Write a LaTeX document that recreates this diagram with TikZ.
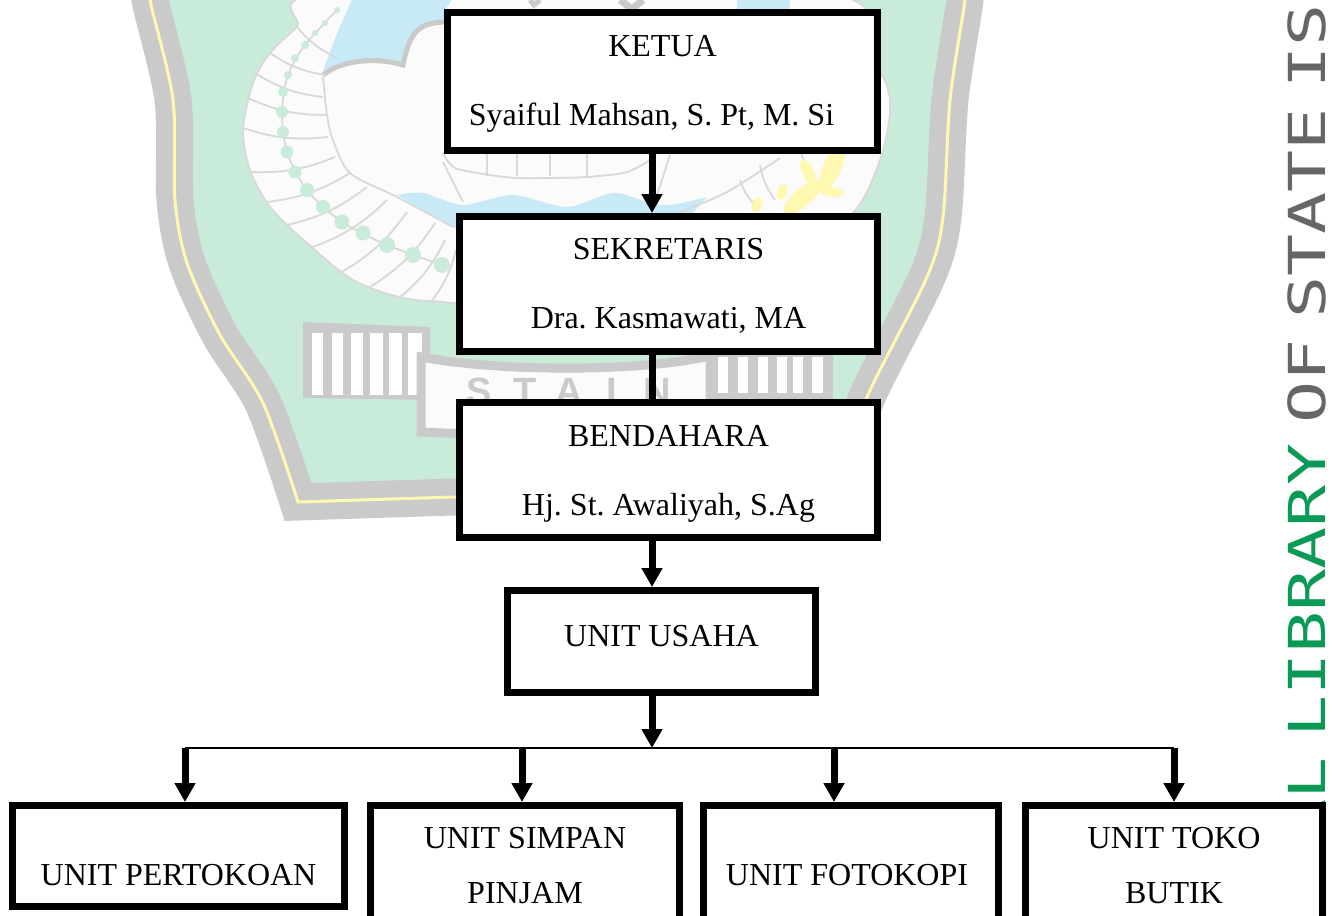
\documentclass[tikz,border=0pt]{standalone}
\usepackage{fontspec}
\setmainfont{Liberation Serif}
\newfontfamily\wmfont{DejaVu Sans Mono}
\newfontfamily\logofont{Liberation Sans}
\usetikzlibrary{arrows.meta}
\definecolor{shieldgreen}{HTML}{C9EBD9}
\definecolor{shieldyellow}{HTML}{FFF8B0}
\definecolor{logogray}{HTML}{CACACA}
\definecolor{logoline}{HTML}{D8D8D8}
\definecolor{logowhite}{HTML}{FBFBFB}
\definecolor{logoblue}{HTML}{C8EAF6}
\definecolor{wmgreen}{HTML}{0B9A55}
\definecolor{wmgray}{HTML}{666666}
\begin{document}
\begin{tikzpicture}[x=1pt,y=-1pt,
  boxnode/.style={draw,fill=white,line width=7pt,align=center,
    font=\fontsize{32}{69}\selectfont\frenchspacing,inner sep=0pt},
  link/.style={line width=7pt},
  arrowlink/.style={line width=7pt,-{Triangle[width=20pt,length=19pt]}},
  busline/.style={line width=2.5pt},
  ringline/.style={draw=logoline,line width=1.8pt}]
  \path[use as bounding box,clip] (0,0) rectangle (1332,915);
  \draw[fill=shieldgreen,draw=logogray,line width=37pt,miter limit=10,
    postaction={draw=shieldyellow,line width=3pt}]
    plot[smooth] coordinates {(145,-40) (150,0) (173,100) (175,200) (187,263) (220,335) (263,403) (298,502)}
    -- (453,497) -- (830,497)
    -- plot[smooth] coordinates {(830,497) (867,397) (927,277) (943,217) (950,100) (965,0) (968,-40)}
    -- cycle;
  \draw[fill=logowhite,ringline] plot[smooth cycle] coordinates {(333,-8) (297,27) (270,53) (253,83) (243,130)
    (250,170) (270,207) (307,243) (353,280) (403,298) (453,303) (600,320) (780,270) (853,213) (880,160)
    (890,110) (881,73) (825,-8)};
  \fill[logoblue] (353,-2) .. controls (340,25) and (330,50) .. (323,72) -- (323,77)
    .. controls (345,58) and (380,58) .. (403,65) .. controls (410,30) and (420,23) .. (445,22)
    -- (445,-2) -- cycle;
  \fill[logoblue] (737,-2) -- (790,-2) -- (790,9) -- (737,9) -- cycle;
  \fill[logoblue] (400,-2) -- (453,-2) -- (445,10) -- (400,10) -- cycle;
  \draw[logogray,line width=5pt] (323,75) .. controls (345,58) and (380,58) .. (403,65)
    .. controls (410,30) and (420,23) .. (445,22);
  \draw[logogray,line width=7pt] (620,0) -- (632,9) -- (643,0);
  \draw[logogray,line width=5pt] (530,0) -- (534,5) -- (540,0);
  \fill[logoblue] plot[smooth] coordinates {(397,195) (423,193) (463,205) (513,195) (567,207) (613,193)
    (647,202) (670,205) (707,197)} -- (690,216) -- (455,228) -- cycle;
  \draw[ringline] plot[smooth] coordinates {(323,77) (327,115) (333,140) (350,173) (397,197) (453,227)};
  \draw[ringline] plot[smooth] coordinates {(780,158) (727,192) (680,212)};
  \draw[ringline] plot[smooth] coordinates {(443,153) (455,168) (490,175) (517,178) (547,178) (587,177) (627,172) (653,158)};
  \draw[ringline] (443,162) -- (463,202);
  \draw[ringline] (670,155) -- (657,195);
  \foreach \xa in {487,517,550,587}
    \draw[ringline] (\xa,154) -- (\xa,176);
  \foreach \xa/\ya/\xb/\yb in {258/75/323/97,248/98/327/115,243/128/328/137,250/172/335/157,267/202/350/173,
    287/225/367/187,310/248/387/200,340/273/407/212,370/287/435/223,400/297/445/240,430/303/456/250,
    297/27/337/58,270/53/325/75,740/180/755/205,760/165/775/200,800/150/820/185}
    \draw[ringline] (\xa,\ya) to[bend right=12] (\xb,\yb);
  \draw[ringline] plot[smooth] coordinates {(337,10) (305,45) (288,75) (282,112) (287,152) (307,190) (342,222) (387,245) (442,265)};
  \foreach \xa/\ya/\r in {337/10/3,325/23/3,315/33/3,305/45/4,295/58/4,288/75/4,283/92/5,282/112/6,283/132/6,
    287/152/6.5,295/172/6.5,307/190/7,323/207/7,342/222/7.5,363/233/7.5,387/245/8,413/255/8,442/265/8}
    \fill[shieldgreen] (\xa,\ya) circle (\r);
  \foreach \xa/\ya/\r/\ra/\rb in {803/197/40/24/9,832/168/65/24/9,808/172/-65/13/6,832/192/-5/12/5,757/205/70/8/5,782/192/70/8/5}
    \fill[shieldyellow,rotate around={\r:(\xa,\ya)}] (\xa,\ya) ellipse (\ra pt and \rb pt);
  \fill[logogray] (303,322) -- (430,327) -- (430,400) -- (303,398) -- cycle;
  \foreach \xa/\xb in {312/323,332/343,351/363,370/383,389/402,408/422}
    \fill[white] (\xa,333) rectangle (\xb,395);
  \fill[logogray] (708,350) rectangle (833,399);
  \foreach \xa/\xb in {718/728,738/748,758/768,777/787,793/803,812/823}
    \fill[white] (\xa,357) rectangle (\xb,393);
  \draw[fill=logowhite,draw=logogray,line width=9pt] (421,357) .. controls (500,372) and (640,372) .. (710,356)
    -- (710,445) -- (421,432) -- cycle;
  \foreach \l/\xa in {S/479,T/525,A/569,I/612,N/657}
    \node[text=logogray,font=\logofont\bfseries\fontsize{38}{38}\selectfont,inner sep=0pt,anchor=base] (logo\l) at (\xa,404) {\l};
  \node[rotate=90,anchor=base east,inner sep=0pt,font=\wmfont\fontsize{51}{51}\selectfont] (wmark) at (1325,4)
    {\scalebox{1.37}[1]{\textcolor{wmgreen}{AL\hspace{-16pt} LIBRARY}\hspace{-16pt} \textcolor{wmgray}{OF\hspace{-16pt} STATE\hspace{-16pt} IS}}};
  \node[boxnode,minimum width=430pt,minimum height=138pt,text height=87pt,text depth=0pt] (ketua) at (662.5,81.5)
    {KETUA\\Syaiful Mahsan, S. Pt, M. Si\hspace*{22pt}};
  \node[boxnode,minimum width=418pt,minimum height=135pt,text height=88pt,text depth=0pt] (sekretaris) at (668.5,284)
    {SEKRETARIS\\Dra. Kasmawati, MA};
  \node[boxnode,minimum width=418pt,minimum height=135pt,text height=90pt,text depth=0pt] (bendahara) at (668.5,470)
    {BENDAHARA\\Hj. St. Awaliyah, S.Ag};
  \node[boxnode,minimum width=308pt,minimum height=102pt,text height=9pt,text depth=0pt] (usaha) at (661.5,641.5)
    {UNIT USAHA};
  \node[boxnode,minimum width=332pt,minimum height=101pt,text height=58pt,text depth=0pt] (pertokoan) at (178.5,856)
    {UNIT PERTOKOAN};
  \node[boxnode,minimum width=309pt,minimum height=121pt,text height=74pt,text depth=0pt] (simpan) at (525,866)
    {UNIT SIMPAN\\[-14pt]PINJAM};
  \node[boxnode,minimum width=295pt,minimum height=121pt,text height=38pt,text depth=0pt] (fotokopi) at (851,866)
    {UNIT FOTOKOPI\hspace*{8pt}};
  \node[boxnode,minimum width=297pt,minimum height=121pt,text height=74pt,text depth=0pt] (butik) at (1174,866)
    {UNIT TOKO\\[-14pt]BUTIK};
  \coordinate (spine) at (652,0);
  \coordinate (busl) at (185,748);
  \coordinate (busm) at (652,748);
  \coordinate (busr) at (1174,748);
  \coordinate (simpanb) at (522,748);
  \coordinate (fotokopib) at (834,748);
  \draw[arrowlink] (ketua.south -| spine) -- (sekretaris.north -| spine);
  \draw[link] (sekretaris.south -| spine) -- (bendahara.north -| spine);
  \draw[arrowlink] (bendahara.south -| spine) -- (usaha.north -| spine);
  \draw[arrowlink] (usaha.south -| spine) -- (busm);
  \draw[busline] (busl) -- (busr);
  \draw[arrowlink] (busl) -- (pertokoan.north -| busl);
  \draw[arrowlink] (simpanb) -- (simpan.north -| simpanb);
  \draw[arrowlink] (fotokopib) -- (fotokopi.north -| fotokopib);
  \draw[arrowlink] (busr) -- (butik.north -| busr);
\end{tikzpicture}
\end{document}
